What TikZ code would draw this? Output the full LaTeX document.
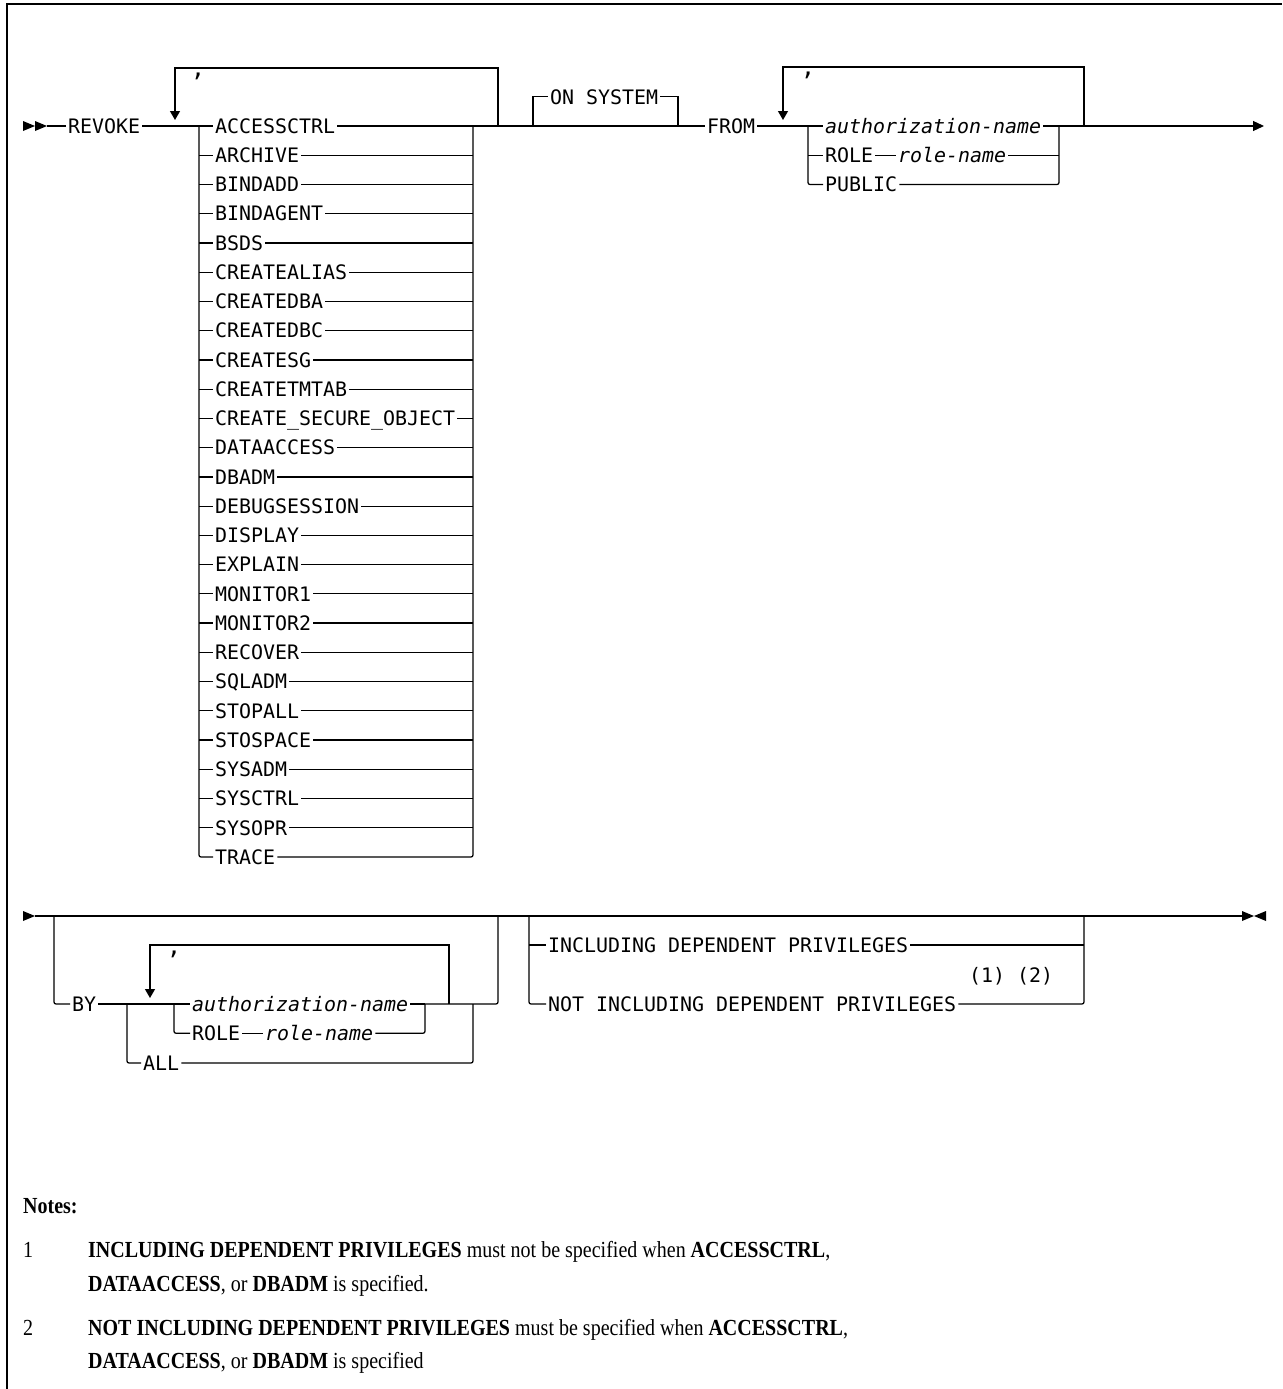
\documentclass[tikz,border=0pt]{standalone}
\usepackage{fontspec}
\setmainfont{Liberation Serif}[FakeStretch=0.87]
\newfontfamily\dgm{DejaVu Sans Mono}
\usetikzlibrary{arrows.meta}
\newcommand\rrfont{\dgm\fontsize{19.93}{24}\selectfont}
\newcommand\commafont{\dgm\fontsize{24}{28}\selectfont}
\newcommand\notefont{\fontsize{23}{27}\selectfont}
\tikzset{
  rail/.style={line width=1.25pt},
  kw/.style={font=\rrfont, inner xsep=2pt, inner ysep=0pt, text height=14.5pt, text depth=0pt, anchor=west},
  var/.style={kw, font=\rrfont\itshape},
  comma/.style={font=\commafont, inner sep=0pt, anchor=base},
  dnarrow/.style={rail, -{Triangle[length=9pt,width=10pt]}},
  rtarrow/.style={rail, -{Triangle[length=11pt,width=10pt]}},
  rc/.style={rail, rounded corners=2pt},
  note/.style={font=\notefont, inner sep=0pt, anchor=base west}
}
\begin{document}
\begin{tikzpicture}[x=1pt,y=-1pt]
\useasboundingbox (0,0) rectangle (1282,1389);
% frame
\draw[line width=1.3pt] (7,1389) -- (7,4) -- (1282,4);

% ================= row 1 =================
\fill (23,121) -- (35,126) -- (23,131) -- cycle;
\fill (35,121) -- (47,126) -- (35,131) -- cycle;
\coordinate (st) at (47,126);
\node[kw] (revoke) at (66,126) {REVOKE};
\draw[rail] (st) -- (revoke.west);

\coordinate (j1) at (199,126);
\coordinate (j2) at (473,126);
\draw[rail] (revoke.east) -- (j1);

\foreach \t [count=\i from 0] in {ACCESSCTRL,ARCHIVE,BINDADD,BINDAGENT,BSDS,CREATEALIAS,CREATEDBA,CREATEDBC,CREATESG,CREATETMTAB,CREATE\_SECURE\_OBJECT,DATAACCESS,DBADM,DEBUGSESSION,DISPLAY,EXPLAIN,MONITOR1,MONITOR2,RECOVER,SQLADM,STOPALL,STOSPACE,SYSADM,SYSCTRL,SYSOPR,TRACE}
  \node[kw] (p\i) at (213,{126+\i*29.24}) {\t};

\draw[rail] (j1) -- (p0.west);
\draw[rail] (p0.east) -- (j2);
\foreach \i in {1,...,24} {
  \draw[rail] (j1 |- p\i.west) -- (p\i.west);
  \draw[rail] (p\i.east) -- (j2 |- p\i.east);
}
\draw[rc] (j1) |- (p25.west);
\draw[rc] (p25.east) -| (j2);

% repeat loop 1
\coordinate (l1r) at (498,126);
\coordinate (l1tl) at (175,68);
\coordinate (l1tip) at (175,120);
\draw[dnarrow] (l1r) |- (l1tl) -- (l1tip);
\node[comma] (cm1) at (198,77) {,};

% ON SYSTEM
\coordinate (os1) at (533,126);
\coordinate (os2) at (678,126);
\node[kw] (onsys) at (548,96.8) {ON SYSTEM};
\draw[rail] (os1) |- (onsys.west);
\draw[rail] (onsys.east) -| (os2);

\node[kw] (from) at (705,126) {FROM};
\draw[rail] (j2) -- (from.west);

% FROM list
\coordinate (j3) at (808,126);
\coordinate (j4) at (1059,126);
\draw[rail] (from.east) -- (j3);
\node[var] (a1) at (823,126) {authorization-name};
\node[kw] (r1) at (823,155.24) {ROLE};
\node[var] (rn1) at (896,155.24) {role-name};
\node[kw] (pub) at (823,184.5) {PUBLIC};
\draw[rail] (j3) -- (a1.west);
\draw[rail] (a1.east) -- (j4);
\draw[rail] (j3 |- r1.west) -- (r1.west);
\draw[rail] (r1.east) -- (rn1.west);
\draw[rail] (rn1.east) -- (j4 |- rn1.east);
\draw[rc] (j3) |- (pub.west);
\draw[rc] (pub.east) -| (j4);

% repeat loop 2
\coordinate (l2r) at (1084,126);
\coordinate (l2tl) at (783,67);
\coordinate (l2tip) at (783,120);
\draw[dnarrow] (l2r) |- (l2tl) -- (l2tip);
\node[comma] (cm2) at (808,76) {,};

\coordinate (end1) at (1264,126);
\draw[rtarrow] (j4) -- (end1);

% ================= row 2 =================
\fill (23,911) -- (35,916) -- (23,921) -- cycle;
\coordinate (s2) at (35,916);
\coordinate (e2) at (1242,916);
\draw[rail] (s2) -- (e2);
\fill (1242,911) -- (1254,916) -- (1242,921) -- cycle;
\fill (1266,911) -- (1254,916) -- (1266,921) -- cycle;

% BY clause
\coordinate (b0) at (54,916);
\coordinate (b5) at (498,916);
\node[kw] (by) at (70,1004) {BY};
\draw[rc] (b0) |- (by.west);
\coordinate (k0) at (127,1004);
\coordinate (k1) at (174,1004);
\coordinate (k2) at (425,1004);
\coordinate (k4) at (473,1004);
\draw[rail] (by.east) -- (k1);
\node[var] (a2) at (190,1004) {authorization-name};
\node[kw] (r2) at (190,1033.24) {ROLE};
\node[var] (rn2) at (263,1033.24) {role-name};
\node[kw] (all) at (141,1063) {ALL};
\draw[rail] (k1) -- (a2.west);
\draw[rail] (a2.east) -- (k2);
\draw[rc] (k1) |- (r2.west);
\draw[rail] (r2.east) -- (rn2.west);
\draw[rc] (rn2.east) -| (k2);
\draw[rc] (k0) |- (all.west);
\draw[rc] (all.east) -| (k4);
\draw[rc] (k2) -| (b5);

% repeat loop 3
\coordinate (l3r) at (449,1004);
\coordinate (l3tl) at (150,945);
\coordinate (l3tip) at (150,998);
\draw[dnarrow] (l3r) |- (l3tl) -- (l3tip);
\node[comma] (cm3) at (174,954) {,};

% INCLUDING clause
\coordinate (c0) at (529,916);
\coordinate (c1) at (1084,916);
\node[kw] (inc) at (546,945) {INCLUDING DEPENDENT PRIVILEGES};
\node[kw] (ninc) at (546,1004) {NOT INCLUDING DEPENDENT PRIVILEGES};
\node[kw] (fn) at (967,975) {(1) (2)};
\draw[rail] (c0 |- inc.west) -- (inc.west);
\draw[rail] (inc.east) -- (c1 |- inc.east);
\draw[rc] (c0) |- (ninc.west);
\draw[rc] (ninc.east) -| (c1);

% ================= notes =================
\node[note] (notes) at (23,1213) {\textbf{Notes:}};
\node[note] (n1) at (23,1257) {1};
\node[note] (n1a) at (88,1257) {\textbf{INCLUDING DEPENDENT PRIVILEGES} must not be specified when \textbf{ACCESSCTRL},};
\node[note] (n1b) at (88,1291) {\textbf{DATAACCESS}, or \textbf{DBADM} is specified.};
\node[note] (n2) at (23,1335) {2};
\node[note] (n2a) at (88,1335) {\textbf{NOT INCLUDING DEPENDENT PRIVILEGES} must be specified when \textbf{ACCESSCTRL},};
\node[note] (n2b) at (88,1368) {\textbf{DATAACCESS}, or \textbf{DBADM} is specified};
\end{tikzpicture}
\end{document}
